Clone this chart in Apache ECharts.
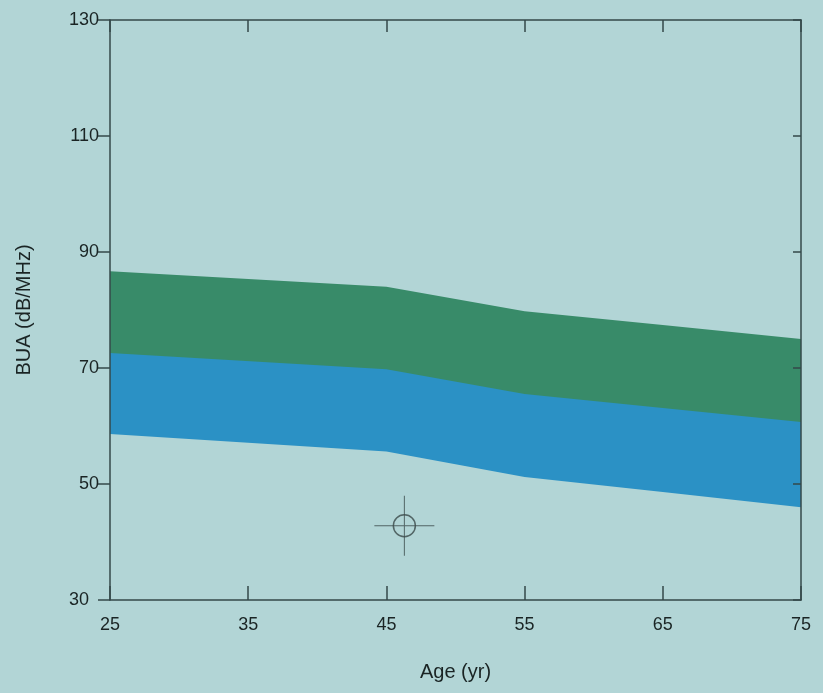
<!DOCTYPE html>
<html>
<head>
<meta charset="utf-8">
<script src="https://cdn.jsdelivr.net/npm/echarts@6/dist/echarts.min.js"></script>
<style>
  html, body { margin: 0; padding: 0; background: #b2d5d6; }
  #chart { width: 823px; height: 693px; }
</style>
</head>
<body>
<div id="chart"></div>
<script>
// 年龄节点 与 带状区间的上/中/下边界
var ages = [25, 45, 55, 65, 75];
var lowerBound = [58.6, 55.6, 51.2, 48.6, 46.0];
var midBound = [72.6, 69.8, 65.5, 63.1, 60.7];
var upperBound = [86.7, 84.0, 79.8, 77.4, 75.0];
// 单个测量点 (年龄, BUA)
var measured = [[46.3, 42.8]];
var xTicks = [25, 35, 45, 55, 65, 75];
var yTicks = [30, 50, 70, 90, 110, 130];

var myChart = echarts.init(document.getElementById('chart'));

var pairs = function (ys) {
    var res = [];
    for (var i = 0; i < ages.length; i++) {
        res.push([ages[i], ys[i]]);
    }
    return res;
};

var bg = '#b2d5d6';
var axisColor = '#34484a';
var textColor = '#1a2424';
var font = 'Liberation Sans, Arial, sans-serif';

// 面积从各边界一直填到轴底, 后画的盖住先画的
var bandSeries = function (name, ys, color, z) {
    return {
        name: name,
        type: 'line',
        data: pairs(ys),
        symbol: 'none',
        lineStyle: {width: 0},
        areaStyle: {color: color, opacity: 1, origin: 'start'},
        silent: true,
        z: z
    };
};

var option = {
    backgroundColor: bg,
    animation: false,
    grid: {left: 110, right: 22, top: 20, bottom: 93},
    xAxis: [
        {
            type: 'value',
            min: 25, max: 75, interval: 10,
            name: 'Age (yr)',
            nameLocation: 'middle',
            nameGap: 62,
            nameTextStyle: {color: textColor, fontSize: 20, fontFamily: font},
            axisLine: {lineStyle: {color: axisColor, width: 1.5}},
            axisTick: {inside: true, length: 14, lineStyle: {color: axisColor, width: 1.5}},
            axisLabel: {color: textColor, fontSize: 18, fontFamily: font, margin: 16},
            splitLine: {show: false},
            z: 10
        },
        {
            type: 'value',
            position: 'top',
            min: 25, max: 75, interval: 10,
            axisLine: {lineStyle: {color: axisColor, width: 1.5}},
            axisTick: {inside: true, length: 12, lineStyle: {color: axisColor, width: 1.5}},
            axisLabel: {show: false},
            splitLine: {show: false},
            z: 10
        }
    ],
    yAxis: [
        {
            type: 'value',
            min: 30, max: 130, interval: 20,
            name: 'BUA (dB/MHz)',
            nameLocation: 'middle',
            nameGap: 76,
            nameRotate: 90,
            nameTextStyle: {color: textColor, fontSize: 20, fontFamily: font},
            axisLine: {lineStyle: {color: axisColor, width: 1.5}},
            axisTick: {length: 12, lineStyle: {color: axisColor, width: 1.5}},
            axisLabel: {
                color: textColor, fontSize: 18, fontFamily: font, margin: 11,
                formatter: function (v) { return v === 30 ? '30  ' : v; }
            },
            splitLine: {show: false},
            z: 10
        },
        {
            type: 'value',
            position: 'right',
            min: 30, max: 130, interval: 20,
            axisLine: {lineStyle: {color: axisColor, width: 1.5}},
            axisTick: {inside: true, length: 8, lineStyle: {color: axisColor, width: 1.5}},
            axisLabel: {show: false},
            splitLine: {show: false},
            z: 10
        }
    ],
    series: [
        bandSeries('upper band', upperBound, '#388b69', 1),
        bandSeries('lower band', midBound, '#2b91c5', 2),
        bandSeries('base', lowerBound, bg, 3),
        {
            name: 'cross',
            type: 'scatter',
            data: measured,
            symbol: 'path://M0,29.5 L60,29.5 L60,30.5 L0,30.5 Z M29.5,0 L30.5,0 L30.5,60 L29.5,60 Z',
            symbolSize: 60,
            itemStyle: {color: '#3a4848'},
            z: 5
        },
        {
            name: 'ring',
            type: 'scatter',
            data: measured,
            symbol: 'circle',
            symbolSize: 22,
            itemStyle: {color: 'rgba(0,0,0,0)', borderColor: '#3a4848', borderWidth: 1.5},
            z: 6
        }
    ]
};

myChart.setOption(option);
</script>
</body>
</html>
